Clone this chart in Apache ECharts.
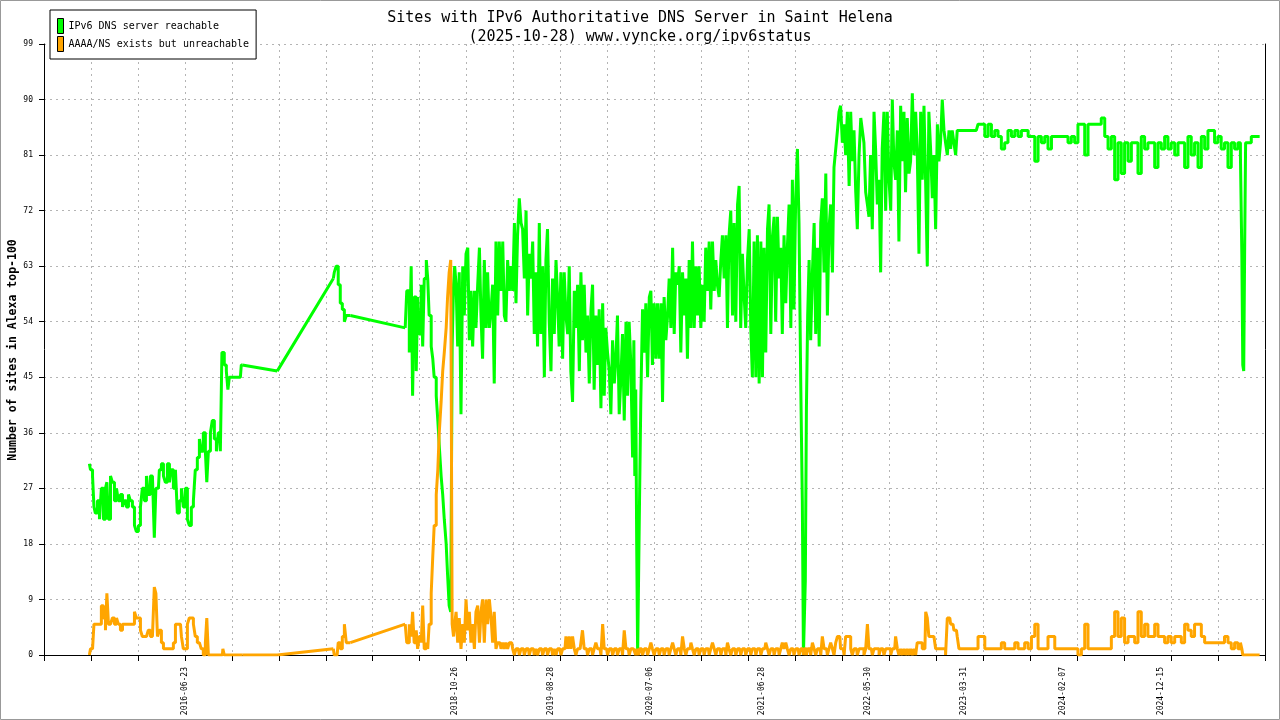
<!DOCTYPE html>
<html><head><meta charset="utf-8">
<script src="https://cdn.jsdelivr.net/npm/echarts@6/dist/echarts.min.js"></script>
<style>html,body{margin:0;padding:0;background:#fff}#c{width:1280px;height:720px}</style>
</head><body><div id="c"></div>
<script>
// ---- data (day offsets are counted from START_DATE) ----
const START_DATE = '2015-04-02';
const titleLines = ['Sites with IPv6 Authoritative DNS Server in Saint Helena', '(2025-10-28) www.vyncke.org/ipv6status'];
const seriesNames = ['IPv6 DNS server reachable', 'AAAA/NS exists but unreachable'];
const yAxisTitle = 'Number of sites in Alexa top-100';
const xLabelDates = ['2016-06-23','2018-10-26','2019-08-28','2020-07-06','2021-06-28','2022-05-30','2023-03-31','2024-02-07','2024-12-15'];
const yTickMin = 0, yTickMax = 99, yTickStep = 9;
const xTickStepDays = 149, xTickCount = 26;
const gapDays = 30; // longer gaps between samples are drawn as straight lines

const days = [
144,151,157,160,166,173,179,185,192,198,201,208,214,220,227,233,239,246,252,258,
265,271,277,284,290,296,303,309,315,322,328,334,341,347,353,357,363,369,376,382,
388,395,401,407,414,420,426,433,439,445,452,458,464,471,477,483,490,496,502,509,
515,518,525,531,537,544,550,556,563,566,569,575,582,585,591,610,623,629,740,918,
924,930,937,943,950,956,962,972,1146,
1156,1162,1168,1171,1178,1184,1187,1194,1200,1203,1210,1216,1219,1225,1232,1235,1241,1248,1251,1257,
1263,1267,1273,1279,1282,1289,1292,1298,1301,1305,
1310,1315,1320,1326,1331,1336,1342,1347,1352,1357,1363,1368,1373,1379,1384,1389,1394,1400,1405,1410,
1416,1421,1426,1431,1437,1442,1447,1453,1458,1463,1468,1474,1479,1484,1490,1495,1500,1505,1511,1516,
1521,1527,1532,1537,1542,1548,1553,1558,1563,1569,1574,1579,1585,1590,1595,1600,1606,1611,1616,1622,
1627,1632,1637,1643,1648,1653,1659,1664,1669,1674,1680,1685,1690,1696,1701,1706,1711,1717,1722,1727,
1733,1738,1743,1748,1754,1759,1764,1770,1775,1780,1785,1791,1796,1801,1807,1812,1817,1822,1828,1833,
1838,1844,1849,1854,1859,1865,1870,
1873,1876,1879,1882,1885,1888,1891,
1896,1902,1907,1912,1918,1923,1928,1933,1939,1944,1949,1955,1960,1965,1970,1976,1981,1986,1992,1997,
2002,2007,2013,2018,2023,2029,2034,2039,2044,2050,2055,2060,2066,2071,2076,2081,2087,2092,2097,2102,
2108,2113,2118,2124,2129,2134,2139,2145,2150,2155,2161,2166,2171,2176,2182,2187,2192,2198,2203,2208,
2213,2219,2224,2229,2235,2240,2245,2250,2256,2261,2266,2272,2277,2282,2287,2293,2298,2303,2309,2314,
2319,2324,2330,2335,2340,2345,2351,2356,2361,2367,2372,2377,2382,2388,2393,2398,2404,
2408,2411,2414,2417,2421,2425,
2430,2435,2441,2446,2451,2457,2462,2467,2472,2478,2483,2488,2493,2499,2504,2509,2515,
2520,2525,2530,2536,2541,2546,2552,2557,2562,2567,2573,2578,2583,2589,2594,2599,2604,2610,2615,2620,
2625,2631,2636,2641,2647,2652,2657,2662,2668,2673,2678,2684,2689,2694,2699,2705,2710,2715,2721,2726,
2731,2736,2742,2747,2752,2758,2763,2768,2773,2779,2784,2789,2795,2800,2805,2810,2816,2821,2826,2832,
2837,2842,2847,2853,2858,2863,2869,2874,2879,2884,2890,2895,2900,2906,
2916,2927,2937,2948,2958,2969,2980,2990,3001,3011,3022,3032,3043,3053,3064,3075,3085,3096,3106,3117,
3128,3138,3149,3159,3170,3180,3191,3202,3212,3223,3233,3244,3254,3265,3275,3286,3297,3307,3318,3328,
3339,3349,3360,3371,3381,3392,3402,3413,3423,3434,3445,3455,3466,3476,3487,3497,3508,3519,3529,3540,
3550,3561,3571,3582,3593,3603,3614,3624,3635,3645,3656,3667,3677,3688,3698,3709,3719,3730,3740,3751,
3762,3772,3783,3793,3799,3802,3805,3808,3811,3814,3825,3836,3846,3857
];

const reachable = [
31,30,29,24,23,25,22,27,22,27,28,22,29,28,25,27,25,26,24,25,
24,26,25,24,21,20,21,24,27,25,29,26,29,29,19,27,27,30,31,29,
28,31,28,30,27,30,23,25,27,24,27,22,21,24,25,30,32,35,33,36,
33,28,33,36,38,35,33,36,33,49,49,47,46,43,45,45,45,47,46,61,
62,63,60,57,56,54,55,55,53,
59,49,63,42,58,46,58,52,60,50,61,64,61,55,50,48,45,42,38,34,
29,26,22,18,13,8,7,50,60,63,
60,50,62,39,63,55,65,66,51,59,50,59,53,60,66,55,48,64,53,62,
53,56,60,44,67,55,67,59,67,55,54,64,59,63,59,70,57,68,74,70,
69,61,72,55,65,61,67,52,62,50,70,52,63,45,64,69,54,46,61,52,
64,58,50,62,48,62,55,52,63,46,41,59,53,60,46,62,51,60,49,55,
44,56,60,43,55,47,56,40,57,42,53,49,46,39,51,44,48,55,39,45,
52,38,54,42,54,47,32,
51,29,43,18,0,0,25,
41,56,49,57,45,58,59,47,57,48,57,48,57,41,58,51,55,61,53,66,
52,62,60,63,49,62,55,61,48,64,53,67,53,63,55,63,53,60,54,66,
59,67,56,67,59,64,60,58,64,68,61,68,53,68,72,55,70,54,73,76,
53,65,58,53,64,69,53,45,67,45,68,44,67,45,66,49,69,73,52,68,
71,54,71,61,66,52,68,57,66,73,53,77,56,74,82,70,44,
25,0,0,12,40,55,
64,51,62,70,52,66,50,70,74,62,78,55,69,73,62,79,82,
85,88,89,83,86,81,88,76,88,80,85,75,69,81,87,85,83,75,73,71,
81,69,88,82,73,77,62,82,88,72,88,77,72,90,80,77,85,67,89,80,
88,75,87,78,80,91,81,88,82,65,88,77,89,76,63,88,82,74,81,69,
86,80,83,90,85,83,81,85,82,85,83,81,85,85,
85,85,85,85,85,86,86,84,86,84,85,84,82,83,85,84,85,84,85,85,
84,84,80,84,83,84,82,84,84,84,84,84,83,84,83,86,86,81,86,86,
86,86,87,84,82,84,77,83,78,83,80,83,83,78,84,82,83,83,79,83,
82,84,82,83,81,83,83,79,84,81,83,79,84,82,85,85,83,84,82,83,
79,83,82,83,81,65,47,46,66,83,83,84,84,84
];

const unreachable = [
0,1,1,5,5,5,5,8,6,4,10,5,5,6,5,6,5,4,5,5,
5,5,5,5,7,6,6,4,3,3,3,4,3,3,11,10,3,4,2,1,
1,1,1,1,2,5,5,5,3,1,1,5,6,6,5,3,2,2,1,0,
2,6,0,0,0,0,0,0,0,0,1,0,0,0,0,0,0,0,0,1,
0,0,2,1,3,5,2,2,5,
2,5,3,7,2,4,1,3,2,8,1,2,1,5,10,16,21,26,30,36,
41,46,49,53,58,62,64,5,3,5,
7,2,6,1,5,2,9,4,7,2,5,1,7,8,2,7,9,2,9,5,
9,6,2,7,1,2,2,1,2,1,2,1,2,2,1,0,1,1,0,1,
1,0,1,1,0,1,1,0,1,0,1,1,0,1,1,0,1,1,0,1,
0,1,1,0,1,1,3,1,3,1,3,1,0,1,1,2,4,1,1,0,
1,1,0,1,2,1,1,0,5,1,1,0,1,1,0,1,1,0,1,1,
0,4,1,1,0,1,1,
1,1,0,1,1,0,1,
1,0,1,1,0,1,2,1,0,1,1,0,1,1,0,1,1,0,1,2,
1,0,1,1,0,3,1,0,1,1,2,1,0,1,1,0,1,1,0,1,
1,0,1,2,1,0,1,1,0,1,1,0,2,1,0,1,1,0,1,1,
0,1,1,0,1,1,0,1,1,0,1,1,0,1,1,2,1,0,1,1,
0,1,1,0,1,2,1,2,1,0,1,1,0,1,1,0,1,
1,0,1,1,0,1,
1,0,2,1,0,1,1,0,3,1,1,0,1,2,1,0,2,
3,3,1,1,0,3,3,3,1,0,1,1,0,1,1,1,0,1,5,1,
1,0,1,1,1,0,1,1,0,1,1,1,0,1,1,3,1,0,1,0,
1,0,1,0,1,0,1,0,2,2,2,1,1,7,6,3,3,3,3,1,
1,1,1,1,1,0,6,6,5,5,4,4,3,1,
1,1,1,1,1,3,3,1,1,1,1,1,2,1,1,1,2,1,1,2,
1,3,5,1,1,1,3,3,1,1,1,1,1,1,1,0,1,5,1,1,
1,1,1,1,1,3,7,3,6,2,3,3,2,7,3,5,3,3,5,3,
3,2,3,2,3,3,2,5,4,3,5,5,3,2,2,2,2,2,2,3,
2,1,2,1,2,1,0,0,0,0,0,0,0,0
];

if (days.length !== reachable.length || days.length !== unreachable.length) {
  throw new Error('length mismatch ' + days.length + ' ' + reachable.length + ' ' + unreachable.length);
}

// ---- chart ----
const DAY_MS = 86400000;
const t0 = Date.parse(START_DATE);
const labelOffsets = xLabelDates.map(s => Math.round((Date.parse(s) - t0) / DAY_MS));
const fmtDate = v => new Date(t0 + Math.round(v) * DAY_MS).toISOString().slice(0, 10);
const mono = "'DejaVu Sans Mono', monospace";
const gridColor = '#b4b4b4';

// dense runs are drawn as steps; long gaps between samples as straight joins
function denseRuns(vals) {
  const out = [];
  for (let i = 0; i < days.length; i++) {
    out.push([days[i], vals[i]]);
    if (i + 1 < days.length && days[i + 1] - days[i] > gapDays) {
      out.push([days[i], '-'], [days[i + 1], '-']);
    }
  }
  return out;
}
function gapJoins(vals) {
  const out = [];
  for (let i = 0; i + 1 < days.length; i++) {
    if (days[i + 1] - days[i] > gapDays) {
      out.push([days[i], vals[i]], [days[i + 1], vals[i + 1]], [days[i + 1], '-']);
    }
  }
  return out;
}
function lineSeries(name, data, color, step) {
  return {
    name, type: 'line', yAxisIndex: 0, data, step,
    connectNulls: false, showSymbol: false, symbol: 'none', sampling: null,
    lineStyle: {color, width: 3, cap: 'butt', join: 'bevel'},
    itemStyle: {color}
  };
}

const chart = echarts.init(document.getElementById('c'), null, {renderer: 'canvas'});
chart.setOption({
  animation: false,
  backgroundColor: '#ffffff',
  title: {
    text: titleLines.join('\n'),
    left: 'center', top: 4,
    textStyle: {fontFamily: mono, fontSize: 15, fontWeight: 'normal', lineHeight: 19, color: '#000'}
  },
  legend: {
    orient: 'vertical', left: 50, top: 10,
    data: seriesNames,
    icon: 'rect', itemWidth: 6, itemHeight: 15, itemGap: 2,
    padding: [8, 7, 7, 7],
    backgroundColor: '#fff', borderColor: '#000', borderWidth: 1, borderRadius: 0,
    itemStyle: {borderColor: '#000', borderWidth: 1},
    textStyle: {fontFamily: mono, fontSize: 10, color: '#000'},
    selectedMode: false
  },
  grid: {left: 44, right: 15, top: 44, bottom: 65, containLabel: false},
  xAxis: {
    type: 'value', min: 0, max: xTickStepDays * xTickCount, interval: xTickStepDays,
    axisLine: {show: true, onZero: false, lineStyle: {color: '#000', width: 1}},
    axisTick: {show: true, length: 6, lineStyle: {color: '#000'}},
    splitLine: {show: true, lineStyle: {color: gridColor, type: [2, 4], width: 1}},
    axisLabel: {customValues: labelOffsets, formatter: fmtDate, rotate: 90,
      fontFamily: mono, fontSize: 8, color: '#000', margin: 12}
  },
  yAxis: [{
    type: 'value', min: yTickMin, max: yTickMax, interval: yTickStep, position: 'left',
    axisLine: {show: true, lineStyle: {color: '#000', width: 1}},
    axisTick: {show: true, length: 5, lineStyle: {color: '#000'}},
    splitLine: {show: true, lineStyle: {color: gridColor, type: [2, 4], width: 1}},
    axisLabel: {fontFamily: mono, fontSize: 8, color: '#000', margin: 11}
  }, {
    type: 'value', min: yTickMin, max: yTickMax, position: 'right',
    axisLine: {show: true, lineStyle: {color: '#000', width: 1}},
    axisTick: {show: false}, axisLabel: {show: false}, splitLine: {show: false}
  }],
  graphic: [
    {type: 'rect', silent: true, shape: {x: 0.5, y: 0.5, width: 1279, height: 719},
     style: {fill: 'none', stroke: '#999', lineWidth: 1}},
    {type: 'text', silent: true, x: 13, y: 350, rotation: Math.PI / 2,
     style: {text: yAxisTitle, fontFamily: mono, fontSize: 11.5, fontWeight: 'bold', fill: '#000',
             align: 'center', verticalAlign: 'middle'}}
  ],
  series: [
    lineSeries(seriesNames[0], denseRuns(reachable), '#00ff00', 'middle'),
    lineSeries(seriesNames[0], gapJoins(reachable), '#00ff00', false),
    lineSeries(seriesNames[1], denseRuns(unreachable), '#ffa500', 'middle'),
    lineSeries(seriesNames[1], gapJoins(unreachable), '#ffa500', false)
  ]
});
</script>
</body></html>
